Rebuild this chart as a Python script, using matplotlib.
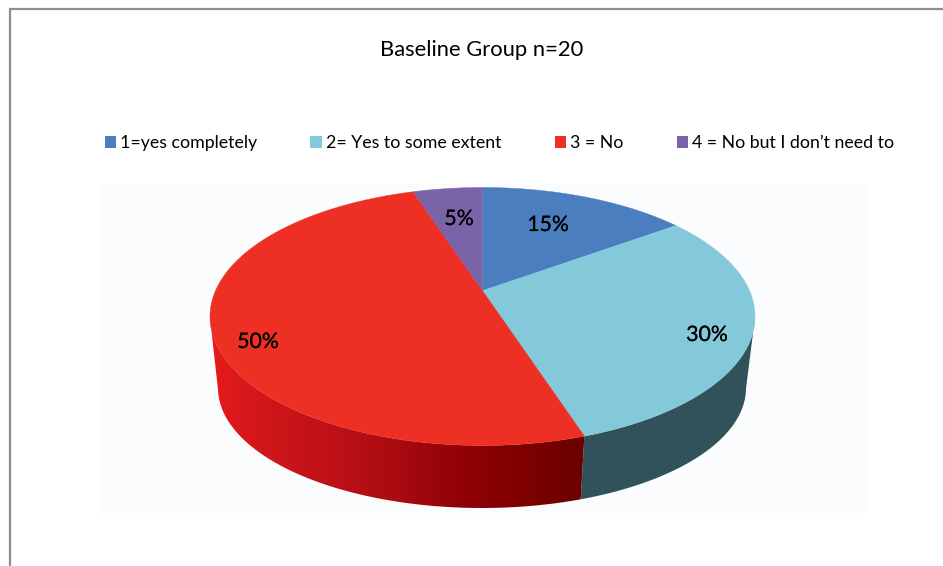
import numpy as np
import matplotlib.pyplot as plt
import matplotlib.patheffects as pe
from matplotlib.colors import LinearSegmentedColormap
from matplotlib.patches import Patch, Polygon, Rectangle

plt.rcParams['font.family'] = ['Lato', 'DejaVu Sans']

title = "Baseline Group n=20"
categories = ["1=yes completely", "2= Yes to some extent", "3 = No", "4 = No but I don\u2019t need to"]
percents = [15, 30, 50, 5]
colors = ["#4A7EBE", "#84C9D9", "#EE3024", "#7B63A8"]

# ellipses of the top face and the bottom rim, in pixels
cx, cy, rx, ry = 482.5, 316.5, 272.5, 129
cx2, cy2, rx2, ry2 = 482, 388, 264, 120
tilt = 0.2  # moves the pie centre towards the back, as in a perspective view

label_x = [548, 707, 258, 459]
label_y = [225, 335, 342, 219]


def project(angle):
    # angle is clockwise from 12 o'clock; returns unit circle coords after perspective
    x, y = np.sin(angle), np.cos(angle)
    w = 1 + tilt * y
    return x * np.sqrt(1 - tilt**2) / w, (y + tilt) / w


def arc(start, stop):
    return project(np.linspace(start, stop, max(int((stop - start) * 80), 2)))


fig = plt.figure(figsize=(9.43, 5.66), dpi=100)
ax = fig.add_axes([0, 0, 1, 1])
ax.set_xlim(0, 943)
ax.set_ylim(566, 0)
ax.axis("off")

# frame around the chart
ax.plot([10, 10, 943], [566, 9, 9], color="#8E8E8E", lw=1.6, solid_joinstyle="miter")

# faint plot area
ax.add_patch(Rectangle((98, 184), 769, 329, facecolor="#FBFCFE", edgecolor="none"))

edges = np.cumsum([0] + percents) / sum(percents) * 2 * np.pi

# side walls, only the part facing the viewer
wall_shades = [
    ["#31525A", "#31525A"],
    ["#31525A", "#31525A"],
    ["#E71A1C", "#CE161A", "#BD1117", "#A90B11", "#900207", "#800000", "#6A0000"],
    ["#31525A", "#31525A"],
]
for i in range(len(percents)):
    u, v = arc(edges[i], edges[i + 1])
    front = v <= 0
    if not front.any():
        continue
    top = np.column_stack([cx + rx * u[front], cy - ry * v[front]])
    bottom = np.column_stack([cx2 + rx2 * u[front], cy2 - ry2 * v[front]])
    outline = np.vstack([top, bottom[::-1]])
    wall = Polygon(outline, closed=True, facecolor="none", edgecolor="none")
    ax.add_patch(wall)
    cmap = LinearSegmentedColormap.from_list("wall", wall_shades[i])
    img = ax.imshow(np.linspace(0, 1, 256)[None, :], cmap=cmap, aspect="auto",
                    extent=[outline[:, 0].min(), outline[:, 0].max(), 566, 0], zorder=2)
    img.set_clip_path(wall)

# top face slices
for i in range(len(percents)):
    u, v = arc(edges[i], edges[i + 1])
    pts = np.column_stack([cx + rx * u, cy - ry * v])
    pts = np.vstack([[cx, cy - ry * tilt], pts])
    ax.add_patch(Polygon(pts, closed=True, facecolor=colors[i], edgecolor=colors[i], lw=0.3, zorder=3))

ax.set_xlim(0, 943)
ax.set_ylim(566, 0)

for i in range(len(percents)):
    ax.text(label_x[i], label_y[i], f"{percents[i]}%", ha="center", va="center",
            fontsize=15.3, color="black", zorder=4,
            path_effects=[pe.withStroke(linewidth=0.15, foreground="black")])

ax.text(482, 50, title, ha="center", va="center", fontsize=15.8, color="black")

handles = [Patch(facecolor=c, edgecolor="none") for c in colors]
ax.legend(handles, categories, ncol=4, frameon=False, fontsize=12.75,
          loc="center", bbox_to_anchor=(499.5 / 943, 1 - 143 / 566),
          handlelength=0.63, handleheight=0.63, handletextpad=0.25, columnspacing=3.0,
          borderpad=0, labelcolor="black")

plt.savefig("out.png", dpi=100)
